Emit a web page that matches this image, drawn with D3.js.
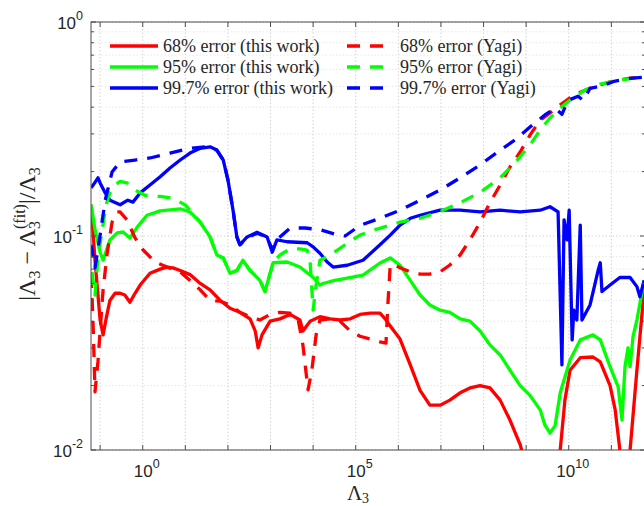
<!DOCTYPE html>
<html>
<head>
<meta charset="utf-8">
<script src="https://cdn.jsdelivr.net/npm/d3@7"></script>
<style>
  html, body { margin: 0; padding: 0; background: #fff; }
  svg { display: block; }
  .serif { font-family: "Liberation Serif", "DejaVu Serif", "Times New Roman", serif; }
  .sans { font-family: "Liberation Sans", Arial, Helvetica, sans-serif; }
</style>
</head>
<body>
<svg id="chart" width="644" height="506"></svg>
<script>
// Relative error of the Λ3 fit against Λ3.
// Points are [log10(Λ3), relative error].
const logLambdaDomain = [-1.214, 11.79];
const errorDomain = [0.01, 1];
const xTickExponents = d3.range(-1, 12);
const xLabelExponents = [0, 5, 10];
const yTickExponents = [-2, -1, 0];

const err68 = [
  [-1.21,0.140],[-1.12,0.077],[-1.00,0.0405],[-0.93,0.0345],[-0.86,0.041],[-0.77,0.050],
  [-0.65,0.054],[-0.53,0.054],[-0.42,0.053],[-0.30,0.049],[-0.18,0.054],[-0.06,0.059],
  [0.17,0.067],[0.41,0.070],[0.57,0.0716],[0.71,0.071],[0.88,0.069],[1.11,0.066],
  [1.35,0.060],[1.58,0.056],[1.82,0.050],[2.05,0.046],[2.28,0.044],[2.52,0.041],
  [2.64,0.036],[2.71,0.030],[2.80,0.0345],[2.99,0.040],[3.22,0.041],[3.46,0.043],
  [3.69,0.0405],[3.76,0.036],[3.93,0.040],[4.16,0.042],[4.40,0.041],[4.63,0.0405],
  [4.87,0.041],[5.10,0.043],[5.34,0.0436],[5.57,0.0436],[5.69,0.041],[5.81,0.038],
  [6.04,0.033],[6.28,0.025],[6.51,0.019],[6.74,0.0162],[6.98,0.0162],[7.21,0.0171],
  [7.45,0.0185],[7.68,0.0195],[7.92,0.020],[8.15,0.0195],[8.39,0.0171],[8.62,0.0138],
  [8.86,0.0106],[9.02,0.0081],[9.30,0.005],[9.63,0.008],[9.80,0.010],[9.91,0.0171],
  [10.03,0.0236],[10.27,0.027],[10.57,0.0272],[10.74,0.0258],[10.97,0.020],[11.09,0.0154],
  [11.20,0.010],[11.27,0.0073],[11.39,0.0081],[11.44,0.010],[11.60,0.0236],[11.77,0.056]
];

const err95 = [
  [-1.21,0.140],[-1.12,0.107],[-1.00,0.084],[-0.93,0.077],[-0.77,0.0958],[-0.60,0.1033],
  [-0.46,0.1044],[-0.30,0.0978],[-0.13,0.110],[0.10,0.125],[0.41,0.131],[0.88,0.134],
  [1.11,0.1295],[1.35,0.116],[1.58,0.099],[1.74,0.0815],[1.89,0.079],[2.05,0.067],
  [2.21,0.069],[2.35,0.077],[2.52,0.069],[2.75,0.062],[2.87,0.055],[3.06,0.075],
  [3.39,0.0756],[3.69,0.0716],[4.00,0.064],[4.16,0.059],[4.23,0.060],[4.51,0.062],
  [4.80,0.0636],[5.17,0.0657],[5.57,0.0748],[5.81,0.079],[6.04,0.073],[6.28,0.062],
  [6.51,0.053],[6.74,0.0476],[6.98,0.045],[7.21,0.044],[7.45,0.041],[7.68,0.040],
  [7.92,0.036],[8.15,0.031],[8.39,0.0278],[8.62,0.0236],[8.86,0.020],[9.09,0.018],
  [9.33,0.0154],[9.44,0.0131],[9.56,0.012],[9.68,0.013],[9.80,0.0185],[10.03,0.0263],
  [10.27,0.0327],[10.57,0.0345],[10.74,0.0327],[10.97,0.0245],[11.16,0.0197],[11.25,0.0138],
  [11.32,0.0245],[11.39,0.030],[11.44,0.0245],[11.51,0.034],[11.60,0.0405],[11.77,0.0623]
];

const err997 = [
  [-1.21,0.168],[-1.12,0.178],[-1.05,0.187],[-1.00,0.177],[-0.88,0.159],[-0.77,0.147],
  [-0.53,0.140],[-0.35,0.147],[-0.23,0.144],[-0.06,0.159],[0.17,0.173],[0.41,0.189],
  [0.64,0.208],[0.88,0.2265],[1.11,0.244],[1.35,0.257],[1.58,0.261],[1.74,0.252],
  [1.89,0.2265],[2.00,0.183],[2.12,0.132],[2.21,0.099],[2.28,0.091],[2.45,0.099],
  [2.68,0.104],[2.92,0.099],[3.04,0.084],[3.15,0.096],[3.39,0.094],[3.86,0.093],
  [4.00,0.089],[4.16,0.083],[4.33,0.0756],[4.47,0.0716],[4.80,0.073],[5.17,0.077],
  [5.57,0.091],[5.81,0.101],[6.04,0.1125],[6.28,0.121],[6.51,0.125],[6.98,0.132],
  [7.45,0.132],[7.92,0.1295],[8.39,0.132],[8.86,0.1295],[9.33,0.132],[9.56,0.137],
  [9.75,0.1295],[9.84,0.025],[9.89,0.119],[9.96,0.096],[10.01,0.132],[10.08,0.0327],
  [10.12,0.045],[10.19,0.0405],[10.27,0.1125],[10.31,0.0405],[10.50,0.0476],[10.69,0.069],
  [10.74,0.075],[10.78,0.055],[10.97,0.059],[11.20,0.064],[11.44,0.064],[11.60,0.058],
  [11.67,0.052],[11.77,0.062]
];

const err68Yagi = [
  [-1.21,0.0657],[-1.16,0.036],[-1.12,0.0187],[-1.05,0.026],[-1.00,0.036],[-0.93,0.056],
  [-0.84,0.0815],[-0.72,0.116],[-0.60,0.1295],[-0.53,0.1295],[-0.37,0.119],[-0.18,0.098],
  [0.01,0.086],[0.29,0.0756],[0.57,0.0716],[0.88,0.068],[1.11,0.062],[1.35,0.056],
  [1.58,0.050],[1.82,0.0496],[2.05,0.0476],[2.28,0.044],[2.52,0.042],[2.75,0.0405],
  [2.99,0.043],[3.22,0.044],[3.46,0.0436],[3.65,0.0405],[3.76,0.031],[3.88,0.0191],
  [3.97,0.0236],[4.07,0.0345],[4.16,0.0405],[4.40,0.041],[4.63,0.040],[4.87,0.036],
  [5.10,0.034],[5.34,0.033],[5.57,0.032],[5.71,0.0316],[5.76,0.050],[5.81,0.0732],
  [5.92,0.0732],[6.04,0.071],[6.28,0.068],[6.51,0.0664],[6.74,0.0664],[6.98,0.068],
  [7.21,0.0732],[7.45,0.0815],[7.68,0.0958],[7.92,0.116],[8.15,0.143],[8.39,0.173],
  [8.62,0.210],[8.86,0.247],[9.09,0.296],[9.33,0.348],[9.56,0.376],[9.80,0.410],
  [10.03,0.442],[10.27,0.470],[10.50,0.490],[10.74,0.508],[10.97,0.525],[11.20,0.536],
  [11.44,0.547],[11.77,0.553]
];

const err95Yagi = [
  [-1.19,0.0679],[-1.12,0.053],[-1.05,0.079],[-0.95,0.107],[-0.86,0.140],[-0.77,0.159],
  [-0.65,0.173],[-0.53,0.180],[-0.37,0.177],[-0.18,0.164],[0.05,0.155],[0.41,0.153],
  [0.71,0.150],[0.99,0.140],[1.11,0.132],[1.35,0.116],[1.58,0.099],[1.74,0.0815],
  [1.89,0.079],[2.05,0.067],[2.21,0.069],[2.35,0.077],[2.52,0.069],[2.75,0.062],
  [2.87,0.055],[3.06,0.075],[3.22,0.0815],[3.46,0.087],[3.69,0.087],[3.86,0.086],
  [3.93,0.0756],[4.00,0.045],[4.07,0.059],[4.16,0.077],[4.40,0.0815],[4.75,0.091],
  [5.10,0.101],[5.45,0.107],[5.81,0.1125],[6.04,0.116],[6.51,0.121],[6.98,0.130],
  [7.45,0.143],[7.92,0.160],[8.39,0.187],[8.74,0.220],[9.09,0.266],[9.33,0.313],
  [9.56,0.356],[9.80,0.396],[10.03,0.432],[10.38,0.481],[10.74,0.513],[11.20,0.536],
  [11.77,0.553]
];

const err997Yagi = [
  [-1.21,0.091],[-1.12,0.071],[-1.00,0.101],[-0.88,0.147],[-0.72,0.199],[-0.53,0.222],
  [-0.18,0.2265],[0.17,0.2315],[0.64,0.244],[1.11,0.257],[1.46,0.261],[1.74,0.252],
  [1.89,0.2265],[2.00,0.183],[2.12,0.132],[2.21,0.099],[2.28,0.091],[2.45,0.098],
  [2.68,0.103],[2.92,0.099],[3.04,0.086],[3.15,0.096],[3.46,0.109],[3.81,0.109],
  [4.16,0.107],[4.51,0.102],[4.75,0.100],[5.10,0.112],[5.57,0.121],[6.04,0.132],
  [6.51,0.147],[6.98,0.164],[7.45,0.187],[7.92,0.215],[8.39,0.252],[8.74,0.281],
  [9.09,0.323],[9.44,0.368],[9.68,0.396],[9.84,0.370],[9.98,0.430],[10.22,0.450],
  [10.34,0.430],[10.50,0.490],[10.74,0.500],[11.09,0.530],[11.44,0.545],[11.77,0.553]
];

const seriesList = [
  { name: "68% error (this work)",   data: err68,      color: "#ff0000", dashed: false },
  { name: "95% error (this work)",   data: err95,      color: "#00ff00", dashed: false },
  { name: "99.7% error (this work)", data: err997,     color: "#0000ff", dashed: false },
  { name: "68% error (Yagi)",        data: err68Yagi,  color: "#ff0000", dashed: true },
  { name: "95% error (Yagi)",        data: err95Yagi,  color: "#00ff00", dashed: true },
  { name: "99.7% error (Yagi)",      data: err997Yagi, color: "#0000ff", dashed: true }
];

const M = { left: 91, top: 22, right: 645, bottom: 450 };
const svg = d3.select("#chart");

const x = d3.scaleLog()
  .domain(logLambdaDomain.map(e => Math.pow(10, e)))
  .range([M.left, M.right]);
const y = d3.scaleLog()
  .domain(errorDomain)
  .range([M.bottom, M.top]);

const AXIS = "#4d4d4d";
const TEXT = "#262626";
const DASH = "13,10";
const LW = 3.3;

svg.append("defs").append("clipPath").attr("id", "plotClip")
  .append("rect")
  .attr("x", M.left).attr("y", M.top)
  .attr("width", M.right - M.left).attr("height", M.bottom - M.top);

// grid
const grid = svg.append("g");
const xTickVals = xTickExponents.map(e => Math.pow(10, e));
grid.selectAll("line.gx").data(xTickVals).join("line")
  .attr("x1", d => x(d)).attr("x2", d => x(d))
  .attr("y1", M.top).attr("y2", M.bottom)
  .attr("stroke", "#c8c8c8").attr("stroke-width", 0.8)
  .attr("stroke-dasharray", "1.5,2");
const yMinor = [];
for (let e = -2; e < 0; e++) for (let m = 2; m <= 9; m++) yMinor.push(m * Math.pow(10, e));
const yMajor = yTickExponents.map(e => Math.pow(10, e));
grid.selectAll("line.gym").data(yMinor).join("line")
  .attr("x1", M.left).attr("x2", M.right)
  .attr("y1", d => y(d)).attr("y2", d => y(d))
  .attr("stroke", "#dcdcdc").attr("stroke-width", 0.7)
  .attr("stroke-dasharray", "1.5,2");
grid.selectAll("line.gyM").data(yMajor).join("line")
  .attr("x1", M.left).attr("x2", M.right)
  .attr("y1", d => y(d)).attr("y2", d => y(d))
  .attr("stroke", "#c8c8c8").attr("stroke-width", 0.8)
  .attr("stroke-dasharray", "1.5,2");

// series
const line = d3.line()
  .x(d => x(Math.pow(10, d[0])))
  .y(d => y(d[1]));
const plot = svg.append("g").attr("clip-path", "url(#plotClip)");
seriesList.forEach(s => {
  plot.append("path")
    .attr("d", line(s.data))
    .attr("fill", "none")
    .attr("stroke", s.color)
    .attr("stroke-width", LW)
    .attr("stroke-linejoin", "round")
    .attr("stroke-dasharray", s.dashed ? DASH : null);
});

// axes box with inward ticks
const axes = svg.append("g").attr("fill", "none").attr("stroke", AXIS).attr("stroke-width", 1);
axes.append("rect")
  .attr("x", M.left).attr("y", M.top)
  .attr("width", M.right - M.left).attr("height", M.bottom - M.top);
const TL = 5, TLm = 3;
xTickVals.forEach(v => {
  const px = x(v);
  axes.append("line").attr("x1", px).attr("x2", px).attr("y1", M.bottom).attr("y2", M.bottom - TL);
  axes.append("line").attr("x1", px).attr("x2", px).attr("y1", M.top).attr("y2", M.top + TL);
});
yMajor.forEach(v => {
  const py = y(v);
  axes.append("line").attr("x1", M.left).attr("x2", M.left + TL).attr("y1", py).attr("y2", py);
  axes.append("line").attr("x1", M.right).attr("x2", M.right - TL).attr("y1", py).attr("y2", py);
});
yMinor.forEach(v => {
  const py = y(v);
  axes.append("line").attr("x1", M.left).attr("x2", M.left + TLm).attr("y1", py).attr("y2", py);
  axes.append("line").attr("x1", M.right).attr("x2", M.right - TLm).attr("y1", py).attr("y2", py);
});

// tick labels: 10 with superscript exponent
function powerLabel(g, px, py, exp, anchor) {
  const t = g.append("text")
    .attr("class", "sans")
    .attr("x", px).attr("y", py)
    .attr("text-anchor", anchor)
    .style("font-size", "17px")
    .attr("fill", TEXT);
  t.append("tspan").text("10");
  t.append("tspan").attr("dy", -9).style("font-size", "12.5px").text(String(exp));
}
const labels = svg.append("g");
xLabelExponents.forEach(e => powerLabel(labels, x(Math.pow(10, e)) + 4, 477, e, "middle"));
yTickExponents.forEach(e => powerLabel(labels, 83, y(Math.pow(10, e)) + 7, e, "end"));

// axis titles
const xt = svg.append("text")
  .attr("class", "serif")
  .attr("x", 358).attr("y", 500)
  .attr("text-anchor", "middle")
  .style("font-size", "21px").attr("fill", TEXT);
xt.append("tspan").text("Λ");
xt.append("tspan").attr("dy", 3).style("font-size", "14px").text("3");

const yt = svg.append("text")
  .attr("class", "serif")
  .attr("transform", "translate(35,234) rotate(-90)")
  .attr("text-anchor", "middle")
  .style("font-size", "24px").attr("fill", TEXT);
yt.append("tspan").text("|Λ");
yt.append("tspan").attr("dy", 5).style("font-size", "16px").text("3");
yt.append("tspan").attr("dy", -5).text(" − Λ");
yt.append("tspan").attr("dy", 5).style("font-size", "16px").text("3");
yt.append("tspan").attr("dx", -8).attr("dy", -15).style("font-size", "16px").text("(fit)");
yt.append("tspan").attr("dy", 10).text("|/Λ");
yt.append("tspan").attr("dy", 5).style("font-size", "16px").text("3");

// legend (two columns, no frame)
const cols = [{ x0: 110, x1: 158, tx: 163 }, { x0: 347, x1: 385, tx: 400 }];
const rows = [46, 67, 88];
const legend = svg.append("g");
seriesList.forEach((s, i) => {
  const c = cols[s.dashed ? 1 : 0];
  const r = rows[i % 3];
  legend.append("line")
    .attr("x1", c.x0).attr("x2", c.x1).attr("y1", r).attr("y2", r)
    .attr("stroke", s.color).attr("stroke-width", LW)
    .attr("stroke-dasharray", s.dashed ? DASH : null);
  legend.append("text")
    .attr("class", "serif")
    .attr("x", c.tx).attr("y", r + 6)
    .style("font-size", "18px")
    .attr("fill", TEXT)
    .text(s.name);
});
</script>
</body>
</html>
